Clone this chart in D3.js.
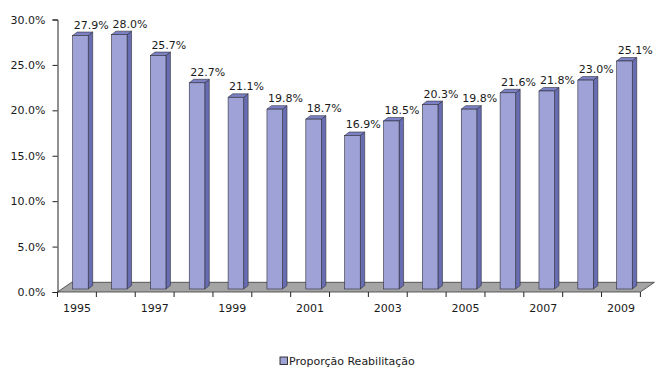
<!DOCTYPE html>
<html>
<head>
<meta charset="utf-8">
<script src="https://cdn.jsdelivr.net/npm/d3@7"></script>
<style>
  html, body { margin: 0; padding: 0; background: #fff; }
  svg { display: block; }
  text { font-family: "DejaVu Sans", sans-serif; fill: #1a1a1a; }
</style>
</head>
<body>
<svg id="chart" width="657" height="376"></svg>
<script>
// Share of rehabilitation works per year
const years = ["1995","1996","1997","1998","1999","2000","2001","2002","2003","2004","2005","2006","2007","2008","2009"];
const values = [27.9, 28.0, 25.7, 22.7, 21.1, 19.8, 18.7, 16.9, 18.5, 20.3, 19.8, 21.6, 21.8, 23.0, 25.1];
const yTicks = [0, 5, 10, 15, 20, 25, 30];
const xTickLabels = ["1995","1997","1999","2001","2003","2005","2007","2009"];
const seriesName = "Proporção Reabilitação";

const svg = d3.select("#chart");

const plot = { left: 57.5, right: 640.4, top: 19.5, bottom: 292 };
const floorDepth = { dx: 14, dy: -9.7 };   // depth of the floor plane
const barShift = { dx: 3.5, dy: -3 };      // bars sit slightly behind the axis plane
const barDepth = { dx: 4.5, dy: -3.5 };    // thickness of each 3D bar
const barRatio = 0.4;

const colors = {
  front: "#9ea2d6",
  side: "#676db0",
  top: "#7c81c4",
  edge: "#2e2e3a",
  floor: "#a4a4a4"
};

const x = d3.scaleBand().domain(years).range([plot.left, plot.right]).padding(0);
const y = d3.scaleLinear().domain([0, 30]).range([plot.bottom, plot.top]);

// Floor
const fl = [
  [plot.left, plot.bottom],
  [plot.right, plot.bottom],
  [plot.right + floorDepth.dx, plot.bottom + floorDepth.dy],
  [plot.left + floorDepth.dx, plot.bottom + floorDepth.dy]
];
svg.append("polygon")
  .attr("points", fl.map(p => p.join(",")).join(" "))
  .attr("fill", colors.floor)
  .attr("stroke", "#3a3a3a")
  .attr("stroke-width", 0.8);

// Bars
const bw = x.bandwidth() * barRatio;
const data = years.map((yr, i) => ({ year: yr, value: values[i] }));

const bars = svg.append("g").selectAll("g").data(data).join("g");

const geom = d => {
  const x0 = x(d.year) + (x.bandwidth() - bw) / 2 + barShift.dx;
  const yTop = y(d.value) + barShift.dy;
  const yBot = y(0) + barShift.dy;
  return { x0, x1: x0 + bw, yTop, yBot };
};

bars.append("polygon")
  .attr("points", d => {
    const g = geom(d);
    return [[g.x1, g.yTop], [g.x1 + barDepth.dx, g.yTop + barDepth.dy],
            [g.x1 + barDepth.dx, g.yBot + barDepth.dy], [g.x1, g.yBot]]
      .map(p => p.join(",")).join(" ");
  })
  .attr("fill", colors.side)
  .attr("stroke", colors.edge)
  .attr("stroke-width", 0.6)
  .attr("stroke-linejoin", "round");

bars.append("polygon")
  .attr("points", d => {
    const g = geom(d);
    return [[g.x0, g.yTop], [g.x0 + barDepth.dx, g.yTop + barDepth.dy],
            [g.x1 + barDepth.dx, g.yTop + barDepth.dy], [g.x1, g.yTop]]
      .map(p => p.join(",")).join(" ");
  })
  .attr("fill", colors.top)
  .attr("stroke", colors.edge)
  .attr("stroke-width", 0.6)
  .attr("stroke-linejoin", "round");

bars.append("rect")
  .attr("x", d => geom(d).x0)
  .attr("y", d => geom(d).yTop)
  .attr("width", bw)
  .attr("height", d => geom(d).yBot - geom(d).yTop)
  .attr("fill", colors.front)
  .attr("stroke", colors.edge)
  .attr("stroke-width", 0.6);

// Value labels
bars.append("text")
  .attr("x", d => geom(d).x0 + 1)
  .attr("y", d => geom(d).yTop - 7)
  .attr("font-size", 11)
  .text(d => d.value.toFixed(1) + "%");

// Y axis
const yAxis = svg.append("g")
  .attr("transform", `translate(${plot.left},0)`)
  .call(d3.axisLeft(y).tickValues(yTicks).tickSize(5).tickPadding(7)
        .tickFormat(d => d.toFixed(1) + "%"));
yAxis.select(".domain").attr("stroke", "#222").attr("stroke-width", 1);
yAxis.selectAll(".tick line").attr("stroke", "#222");
yAxis.selectAll(".tick text").attr("font-size", 11).attr("font-family", "DejaVu Sans").attr("fill", "#1a1a1a");

// X axis: tick marks on category boundaries, labels under every other year
const bounds = years.map(d => x(d)).concat([x(years[years.length - 1]) + x.bandwidth()]);
svg.append("g").selectAll("line").data(bounds).join("line")
  .attr("x1", d => d).attr("x2", d => d)
  .attr("y1", plot.bottom).attr("y2", plot.bottom + 5)
  .attr("stroke", "#222").attr("stroke-width", 1);

const xAxis = svg.append("g")
  .attr("transform", `translate(0,${plot.bottom})`)
  .call(d3.axisBottom(x).tickValues(xTickLabels).tickSize(0).tickPadding(12));
xAxis.select(".domain").remove();
xAxis.selectAll(".tick text").attr("font-size", 11).attr("font-family", "DejaVu Sans").attr("fill", "#1a1a1a");

// Legend
const legend = svg.append("g").attr("transform", "translate(280,357)");
legend.append("rect")
  .attr("x", 0).attr("y", 0).attr("width", 7.5).attr("height", 7.5)
  .attr("fill", colors.front).attr("stroke", "#222").attr("stroke-width", 0.9);
legend.append("text")
  .attr("x", 9).attr("y", 7.8)
  .attr("font-size", 11)
  .text(seriesName);
</script>
</body>
</html>
